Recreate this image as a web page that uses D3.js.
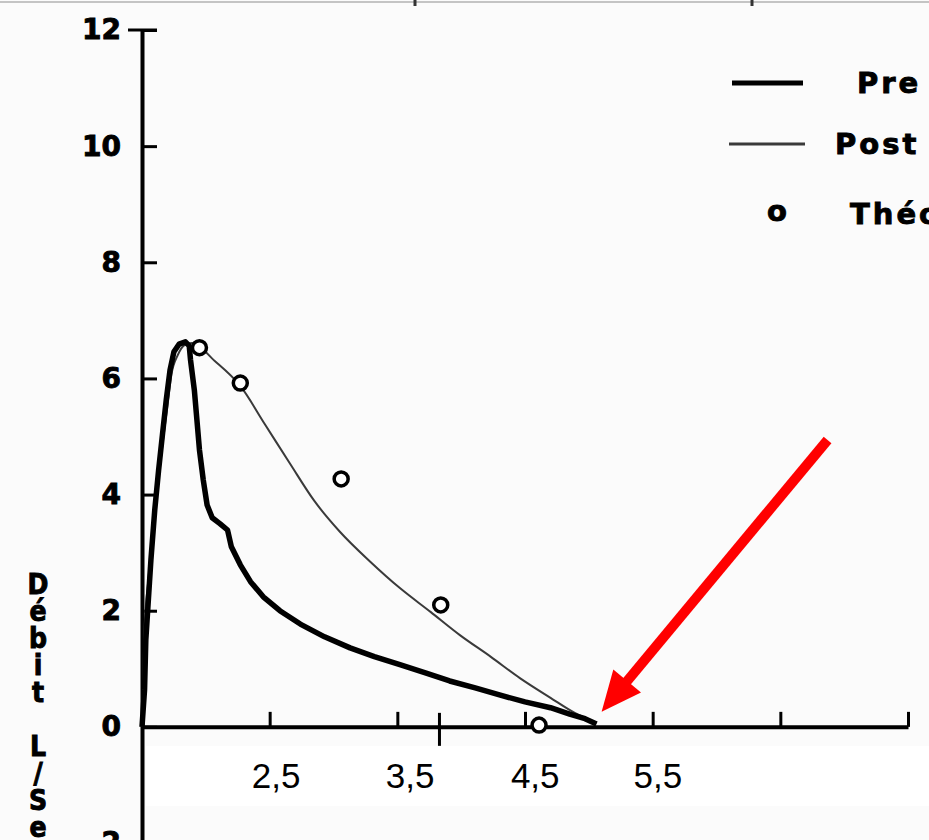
<!DOCTYPE html>
<html>
<head>
<meta charset="utf-8">
<script src="https://cdn.jsdelivr.net/npm/d3@7"></script>
<style>
  body { margin: 0; background: #fff; }
  svg { display: block; }
  .scan { font-family: "DejaVu Sans", sans-serif; font-weight: bold; fill: #000; stroke: #000; stroke-width: 0.9px; }
</style>
</head>
<body>
<div id="graph"></div>
<script>
// volume (L) on x, flow (L/s) on y
var preVol  = [0.00, 0.02, 0.03, 0.05, 0.07, 0.10, 0.13, 0.16, 0.19, 0.22, 0.25, 0.29, 0.34, 0.37,
               0.38, 0.41, 0.43, 0.45, 0.48, 0.51, 0.55, 0.61, 0.67, 0.70, 0.77, 0.85, 0.95, 1.08,
               1.24, 1.43, 1.63, 1.82, 2.02, 2.22, 2.41, 2.61, 2.80, 3.00, 3.20, 3.35, 3.47, 3.56];
var preFlow = [0.00, 0.64, 1.50, 2.19, 2.88, 3.74, 4.42, 5.03, 5.63, 6.15, 6.46, 6.59, 6.63, 6.56,
               6.32, 5.80, 5.29, 4.77, 4.25, 3.82, 3.60, 3.50, 3.39, 3.10, 2.79, 2.50, 2.24, 2.00,
               1.77, 1.55, 1.36, 1.21, 1.07, 0.93, 0.79, 0.67, 0.55, 0.43, 0.33, 0.22, 0.14, 0.05];

var postVol  = [0.00, 0.01, 0.02, 0.05, 0.08, 0.12, 0.16, 0.20, 0.23, 0.28, 0.33, 0.39, 0.57, 0.77,
                0.96, 1.16, 1.35, 1.55, 1.79, 2.02, 2.26, 2.49, 2.73, 2.96, 3.20, 3.39, 3.56];
var postFlow = [0.00, 0.81, 1.67, 2.53, 3.22, 4.08, 4.86, 5.54, 6.06, 6.40, 6.57, 6.61, 6.30, 5.87,
                5.22, 4.53, 3.89, 3.36, 2.84, 2.39, 1.98, 1.58, 1.21, 0.84, 0.50, 0.24, 0.07];

var theoVol  = [0.45, 0.77, 1.56, 2.34, 3.11];
var theoFlow = [6.53, 5.92, 4.27, 2.10, 0.03];

var yTicks = [-2, 0, 2, 4, 6, 8, 10, 12];
var xTicks = [1, 2, 3, 4, 5, 6];
var xLabels = ["2,5", "3,5", "4,5", "5,5"];
var xLabelPos = [1.05, 2.1, 3.08, 4.04];
var legendNames = ["Pre", "Post", "Théorique"];
var yTitle = "Débit L/Sec";

// red arrow (volume, flow)
var arrowFrom = [5.37, 4.94];
var arrowTo = [3.6, 0.26];

var width = 929, height = 840;

var svg = d3.select("#graph").append("svg")
    .attr("width", width)
    .attr("height", height);

// scanned paper background
svg.append("rect").attr("width", width).attr("height", height).attr("fill", "#fbfbfb");

// remains of the scan's top edge
svg.append("line").attr("x1", 0).attr("x2", width).attr("y1", 2).attr("y2", 2)
    .attr("stroke", "#c4c4c4").attr("stroke-width", 2);
[415, 752].forEach(function(d) {
  svg.append("line").attr("x1", d).attr("x2", d).attr("y1", 0).attr("y2", 6)
      .attr("stroke", "#333").attr("stroke-width", 3);
});

// set the ranges
var x = d3.scaleLinear().domain([0, 6]).range([142, 908]);
var y = d3.scaleLinear().domain([-2, 12]).range([843, 30]);

// y axis, ticks pointing into the plot
var yAxis = svg.append("g")
    .attr("transform", "translate(" + x(0) + ",0)")
    .call(d3.axisLeft(y).tickValues(yTicks).tickSizeInner(-15).tickSizeOuter(0).tickPadding(21));
yAxis.select(".domain").attr("stroke", "#000").attr("stroke-width", 4);
yAxis.selectAll(".tick line").attr("stroke", "#000").attr("stroke-width", 3);
yAxis.selectAll(".tick text")
    .attr("class", "scan")
    .style("font-size", "28px")
    .text(function(d) { return d < 0 ? "-" + Math.abs(d) : d; });

// cap at the top of the y axis
svg.append("line")
    .attr("x1", x(0) - 14).attr("x2", x(0) + 15)
    .attr("y1", y(12)).attr("y2", y(12))
    .attr("stroke", "#000").attr("stroke-width", 3);

// x axis, ticks pointing up
var xAxis = svg.append("g")
    .attr("transform", "translate(0," + y(0) + ")")
    .call(d3.axisBottom(x).tickValues(xTicks).tickSizeInner(-15).tickSizeOuter(0).tickFormat(""));
xAxis.select(".domain").attr("stroke", "#000").attr("stroke-width", 4);
xAxis.selectAll(".tick line").attr("stroke", "#000").attr("stroke-width", 3).attr("y2", -15);

// the odd long tick under the curves
svg.append("line")
    .attr("x1", x(2.33)).attr("x2", x(2.33))
    .attr("y1", y(0) - 14).attr("y2", y(0) + 19)
    .attr("stroke", "#000").attr("stroke-width", 3);

// define the lines
var preLine = d3.line()
    .x(function(d, i) { return x(preVol[i]); })
    .y(function(d) { return y(d); })
    .curve(d3.curveLinear);

var postLine = d3.line()
    .x(function(d, i) { return x(postVol[i]); })
    .y(function(d) { return y(d); })
    .curve(d3.curveMonotoneX);

svg.append("path")
    .attr("d", postLine(postFlow))
    .attr("fill", "none")
    .attr("stroke", "#3a3a3a")
    .attr("stroke-width", 2);

svg.append("path")
    .attr("d", preLine(preFlow))
    .attr("fill", "none")
    .attr("stroke", "#000")
    .attr("stroke-width", 5.5)
    .attr("stroke-linejoin", "round");

// theoretical points
svg.selectAll(".theo")
    .data(theoFlow)
    .enter().append("circle")
    .attr("class", "theo")
    .attr("cx", function(d, i) { return x(theoVol[i]); })
    .attr("cy", function(d) { return y(d); })
    .attr("r", 7)
    .attr("fill", "#fff")
    .attr("stroke", "#000")
    .attr("stroke-width", 3.5);

// y title, letters stacked upright
svg.append("text")
    .attr("class", "scan")
    .attr("x", 38)
    .attr("y", 568)
    .attr("writing-mode", "vertical-rl")
    .style("text-orientation", "upright")
    .style("font-family", "'DejaVu Sans Condensed', 'DejaVu Sans', sans-serif")
    .style("font-size", "28px")
    .style("letter-spacing", "-6px")
    .text(yTitle);

// legend
var legend = svg.append("g");
legend.append("line").attr("x1", 732).attr("x2", 803).attr("y1", 83).attr("y2", 83)
    .attr("stroke", "#000").attr("stroke-width", 5);
legend.append("line").attr("x1", 729).attr("x2", 805).attr("y1", 144).attr("y2", 144)
    .attr("stroke", "#3a3a3a").attr("stroke-width", 3);
legend.append("text").attr("class", "scan").attr("x", 777).attr("y", 221)
    .attr("text-anchor", "middle").style("font-size", "29px").text("o");
legend.selectAll(".leg")
    .data(legendNames)
    .enter().append("text")
    .attr("class", "scan")
    .attr("x", function(d, i) { return [857, 835, 850][i]; })
    .attr("y", function(d, i) { return [93, 154, 224][i]; })
    .style("font-size", "29px")
    .style("letter-spacing", "3px")
    .text(function(d) { return d; });

// red arrow
var ax0 = x(arrowFrom[0]), ay0 = y(arrowFrom[1]);
var ax1 = x(arrowTo[0]), ay1 = y(arrowTo[1]);
var len = Math.sqrt((ax1 - ax0) * (ax1 - ax0) + (ay1 - ay0) * (ay1 - ay0));
var ux = (ax1 - ax0) / len, uy = (ay1 - ay0) / len;
var bx = ax1 - 40 * ux, by = ay1 - 40 * uy;
svg.append("line")
    .attr("x1", ax0).attr("y1", ay0).attr("x2", bx + 4 * ux).attr("y2", by + 4 * uy)
    .attr("stroke", "#ff0000").attr("stroke-width", 10);
svg.append("path")
    .attr("d", "M" + ax1 + "," + ay1 +
               "L" + (bx - 18 * uy) + "," + (by + 18 * ux) +
               "L" + (bx + 18 * uy) + "," + (by - 18 * ux) + "Z")
    .attr("fill", "#ff0000");

// pasted label box over the x axis
svg.append("rect")
    .attr("x", 146).attr("y", 746)
    .attr("width", width - 146).attr("height", 60)
    .attr("fill", "#fff");

svg.selectAll(".xlab")
    .data(xLabels)
    .enter().append("text")
    .attr("class", "xlab")
    .attr("x", function(d, i) { return x(xLabelPos[i]); })
    .attr("y", 788)
    .attr("text-anchor", "middle")
    .style("font-family", "'Liberation Sans', Arial, sans-serif")
    .style("font-size", "35px")
    .text(function(d) { return d; });
</script>
</body>
</html>
